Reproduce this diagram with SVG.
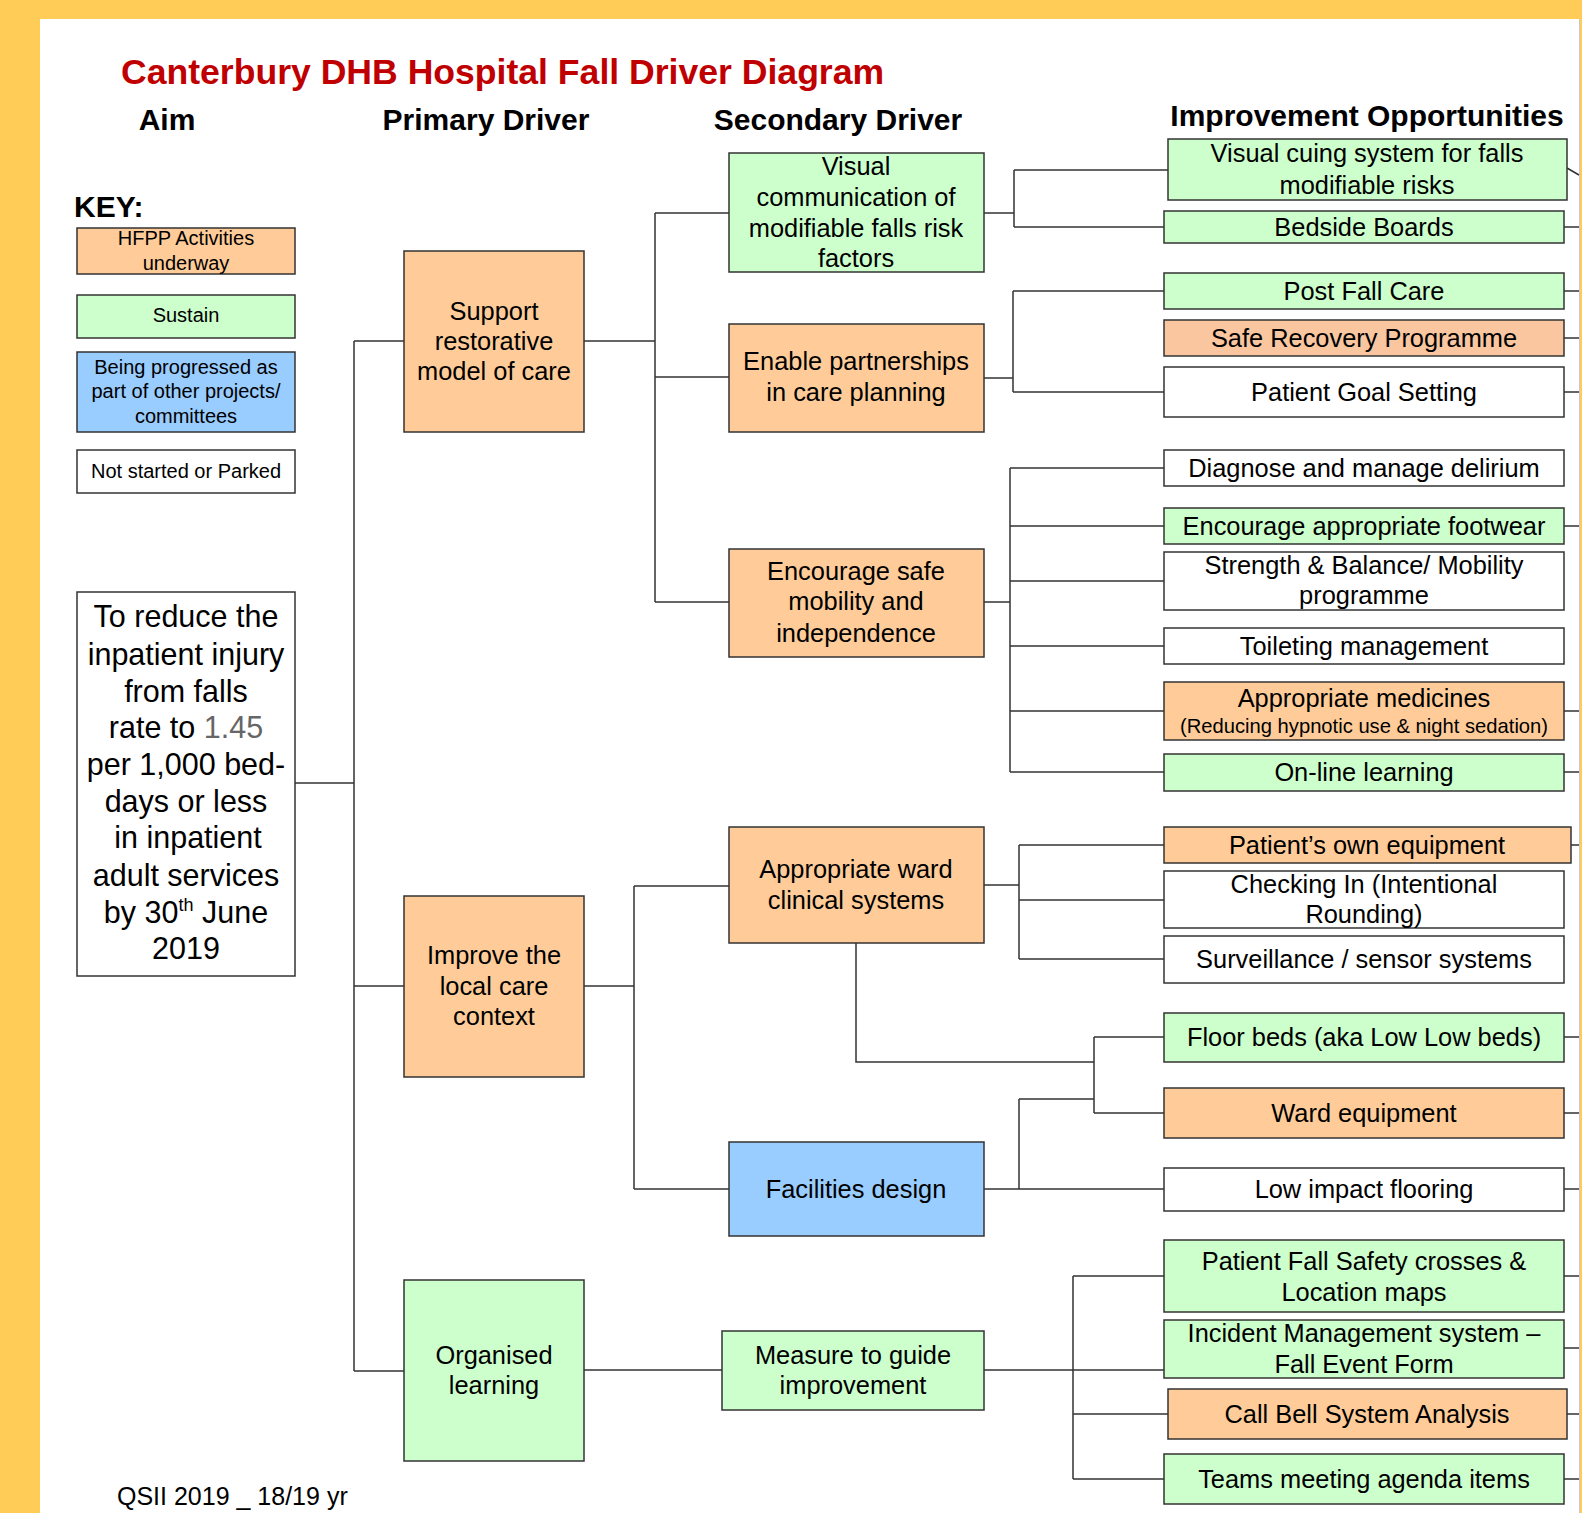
<svg xmlns="http://www.w3.org/2000/svg" width="1582" height="1513" viewBox="0 0 1582 1513">
<style>
text{font-family:"Liberation Sans",Arial,sans-serif;fill:#000;}
.t{font-size:35.6px;font-weight:bold;fill:#C00000;}
.h{font-size:30px;font-weight:bold;text-anchor:middle;}
.k{font-size:20px;text-anchor:middle;}
.a{font-size:30.5px;text-anchor:middle;}
.n{font-size:25.4px;text-anchor:middle;}
.s{font-size:20.2px;text-anchor:middle;}
.or{fill:#FFCC99;stroke:#333;stroke-width:1.5;}
.or2{fill:#F9C6A0;stroke:#333;stroke-width:1.5;}
.gr{fill:#CCFFCC;stroke:#333;stroke-width:1.5;}
.bl{fill:#99CCFF;stroke:#333;stroke-width:1.5;}
.wh{fill:#FFFFFF;stroke:#333;stroke-width:1.5;}
#connectors path{fill:none;stroke:#333;stroke-width:1.5;}
</style>
<rect x="0" y="0" width="1582" height="1513" fill="#FFCD57"/>
<rect x="40" y="19" width="1540" height="1494" fill="#FFFFFF"/>
<line x1="1579.5" y1="19" x2="1579.5" y2="1513" stroke="#C8C8C8" stroke-width="1"/>

<text class="t" x="121" y="84">Canterbury DHB Hospital Fall Driver Diagram</text>
<text class="h" x="167" y="130">Aim</text>
<text class="h" x="486" y="130">Primary Driver</text>
<text class="h" x="838" y="130">Secondary Driver</text>
<text class="h" x="1367" y="126">Improvement Opportunities</text>
<text x="74" y="217" style="font-size:30px;font-weight:bold">KEY:</text>

<g id="key-hfpp"><rect class="or" x="77" y="228" width="218" height="46"/><text class="k" x="186" y="245">HFPP Activities</text><text class="k" x="186" y="270">underway</text></g>
<g id="key-sustain"><rect class="gr" x="77" y="295" width="218" height="43"/><text class="k" x="186" y="322">Sustain</text></g>
<g id="key-progressed"><rect class="bl" x="77" y="352" width="218" height="80"/><text class="k" x="186" y="374">Being progressed as</text><text class="k" x="186" y="398">part of other projects/</text><text class="k" x="186" y="423">committees</text></g>
<g id="key-notstarted"><rect class="wh" x="77" y="450" width="218" height="43"/><text class="k" x="186" y="478">Not started or Parked</text></g>

<g id="connectors">
<path d="M295 783H354M354 341V1371M354 341H404M354 986H404M354 1371H404"/>
<path d="M584 341H655M655 213V602M655 213H729M655 377H729M655 602H729"/>
<path d="M584 986H634M634 886V1189M634 886H729M634 1189H729"/>
<path d="M584 1370H722"/>
<path d="M984 213H1014M1014 170V227M1014 170H1168M1014 227H1164"/>
<path d="M984 378H1013M1013 291V392M1013 291H1164M1013 392H1164"/>
<path d="M984 602H1010M1010 468V772M1010 468H1164M1010 526H1164M1010 581H1164M1010 646H1164M1010 711H1164M1010 772H1164"/>
<path d="M984 885H1019M1019 845V959M1019 845H1164M1019 900H1164M1019 959H1164"/>
<path d="M856 943V1062H1094M1094 1037V1113M1094 1037H1164M1094 1113H1164"/>
<path d="M984 1189H1164M1019 1099V1189M1019 1099H1094"/>
<path d="M984 1370H1164M1073 1276V1479M1073 1276H1164M1073 1414H1168M1073 1479H1164"/>
<path d="M1567 168L1579 175M1564 227H1579M1564 291H1579M1564 338H1579M1564 392H1579M1564 526H1579M1564 711H1579M1564 772H1579M1571 845H1579M1564 1037H1579M1564 1113H1579M1564 1189H1579M1564 1276H1579M1564 1348H1579M1567 1414H1579M1564 1479H1579"/>
</g>

<g id="aim"><rect class="wh" x="77" y="592" width="218" height="384"/>
<text class="a" x="186" y="627">To reduce the</text>
<text class="a" x="186" y="665">inpatient injury</text>
<text class="a" x="186" y="702">from falls</text>
<text class="a" x="186" y="738">rate to <tspan fill="#666666">1.45</tspan></text>
<text class="a" x="186" y="775">per 1,000 bed-</text>
<text class="a" x="186" y="812">days or less</text>
<text class="a" x="188" y="848">in inpatient</text>
<text class="a" x="186" y="886">adult services</text>
<text class="a" x="186" y="923">by 30<tspan font-size="18" dy="-12">th</tspan><tspan dy="12"> June</tspan></text>
<text class="a" x="186" y="959">2019</text>
</g>

<g id="p-support"><rect class="or" x="404" y="251" width="180" height="181"/><text class="n" x="494" y="320">Support</text><text class="n" x="494" y="350">restorative</text><text class="n" x="494" y="380">model of care</text></g>
<g id="p-improve"><rect class="or" x="404" y="896" width="180" height="181"/><text class="n" x="494" y="964">Improve the</text><text class="n" x="494" y="995">local care</text><text class="n" x="494" y="1025">context</text></g>
<g id="p-organised"><rect class="gr" x="404" y="1280" width="180" height="181"/><text class="n" x="494" y="1364">Organised</text><text class="n" x="494" y="1394">learning</text></g>

<g id="s-visual"><rect class="gr" x="729" y="153" width="255" height="119"/><text class="n" x="856" y="175">Visual</text><text class="n" x="856" y="206">communication of</text><text class="n" x="856" y="237">modifiable falls risk</text><text class="n" x="856" y="267">factors</text></g>
<g id="s-enable"><rect class="or" x="729" y="324" width="255" height="108"/><text class="n" x="856" y="370">Enable partnerships</text><text class="n" x="856" y="401">in care planning</text></g>
<g id="s-encourage"><rect class="or" x="729" y="549" width="255" height="108"/><text class="n" x="856" y="580">Encourage safe</text><text class="n" x="856" y="610">mobility and</text><text class="n" x="856" y="642">independence</text></g>
<g id="s-ward"><rect class="or" x="729" y="827" width="255" height="116"/><text class="n" x="856" y="878">Appropriate ward</text><text class="n" x="856" y="909">clinical systems</text></g>
<g id="s-facilities"><rect class="bl" x="729" y="1142" width="255" height="94"/><text class="n" x="856" y="1198">Facilities design</text></g>
<g id="s-measure"><rect class="gr" x="722" y="1331" width="262" height="79"/><text class="n" x="853" y="1364">Measure to guide</text><text class="n" x="853" y="1394">improvement</text></g>

<g id="o-cuing"><rect class="gr" x="1168" y="139" width="399" height="61"/><text class="n" x="1367" y="162">Visual cuing system for falls</text><text class="n" x="1367" y="194">modifiable risks</text></g>
<g id="o-bedside"><rect class="gr" x="1164" y="211" width="400" height="32"/><text class="n" x="1364" y="236">Bedside Boards</text></g>
<g id="o-postfall"><rect class="gr" x="1164" y="273" width="400" height="36"/><text class="n" x="1364" y="300">Post Fall Care</text></g>
<g id="o-saferecovery"><rect class="or2" x="1164" y="320" width="400" height="36"/><text class="n" x="1364" y="347">Safe Recovery Programme</text></g>
<g id="o-goal"><rect class="wh" x="1164" y="367" width="400" height="50"/><text class="n" x="1364" y="401">Patient Goal Setting</text></g>
<g id="o-delirium"><rect class="wh" x="1164" y="450" width="400" height="36"/><text class="n" x="1364" y="477">Diagnose and manage delirium</text></g>
<g id="o-footwear"><rect class="gr" x="1164" y="508" width="400" height="36"/><text class="n" x="1364" y="535">Encourage appropriate footwear</text></g>
<g id="o-strength"><rect class="wh" x="1164" y="552" width="400" height="58"/><text class="n" x="1364" y="574">Strength &amp; Balance/ Mobility</text><text class="n" x="1364" y="604">programme</text></g>
<g id="o-toileting"><rect class="wh" x="1164" y="628" width="400" height="36"/><text class="n" x="1364" y="655">Toileting management</text></g>
<g id="o-medicines"><rect class="or" x="1164" y="682" width="400" height="58"/><text class="n" x="1364" y="707">Appropriate medicines</text><text class="s" x="1364" y="733">(Reducing hypnotic use &amp; night sedation)</text></g>
<g id="o-online"><rect class="gr" x="1164" y="754" width="400" height="37"/><text class="n" x="1364" y="781">On-line learning</text></g>
<g id="o-ownequip"><rect class="or" x="1164" y="827" width="407" height="36"/><text class="n" x="1367" y="854">Patient’s own equipment</text></g>
<g id="o-checking"><rect class="wh" x="1164" y="871" width="400" height="57"/><text class="n" x="1364" y="893">Checking In (Intentional</text><text class="n" x="1364" y="923">Rounding)</text></g>
<g id="o-surveillance"><rect class="wh" x="1164" y="936" width="400" height="47"/><text class="n" x="1364" y="968">Surveillance / sensor systems</text></g>
<g id="o-floorbeds"><rect class="gr" x="1164" y="1013" width="400" height="49"/><text class="n" x="1364" y="1046">Floor beds (aka Low Low beds)</text></g>
<g id="o-wardequip"><rect class="or" x="1164" y="1088" width="400" height="50"/><text class="n" x="1364" y="1122">Ward equipment</text></g>
<g id="o-flooring"><rect class="wh" x="1164" y="1168" width="400" height="43"/><text class="n" x="1364" y="1198">Low impact flooring</text></g>
<g id="o-crosses"><rect class="gr" x="1164" y="1240" width="400" height="72"/><text class="n" x="1364" y="1270">Patient Fall Safety crosses &amp;</text><text class="n" x="1364" y="1301">Location maps</text></g>
<g id="o-incident"><rect class="gr" x="1164" y="1320" width="400" height="58"/><text class="n" x="1364" y="1342">Incident Management system –</text><text class="n" x="1364" y="1373">Fall Event Form</text></g>
<g id="o-callbell"><rect class="or" x="1168" y="1389" width="399" height="50"/><text class="n" x="1367" y="1423">Call Bell System Analysis</text></g>
<g id="o-teams"><rect class="gr" x="1164" y="1454" width="400" height="50"/><text class="n" x="1364" y="1488">Teams meeting agenda items</text></g>

<text x="117" y="1505" style="font-size:25px">QSII 2019 _ 18/19 yr</text>
</svg>
